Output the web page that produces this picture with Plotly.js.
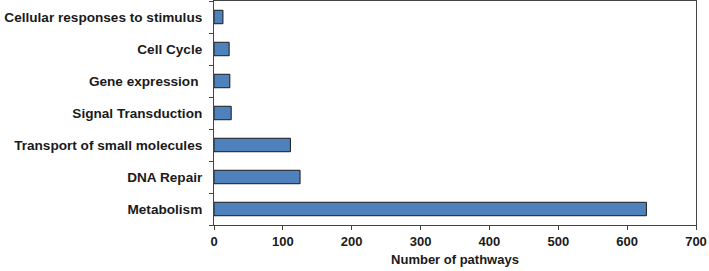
<!DOCTYPE html>
<html>
<head>
<meta charset="utf-8">
<script src="https://cdn.plot.ly/plotly-3.0.1.min.js"></script>
<style>html,body{margin:0;padding:0;background:#fff;}#chart{width:709px;height:271px;}</style>
</head>
<body>
<div id="chart"></div>
<script>
const categories = ["Metabolism", "DNA Repair", "Transport of small molecules", "Signal Transduction", "Gene expression ", "Cell Cycle", "Cellular responses to stimulus"];
const pathwayCounts = [628, 125, 111, 25, 23, 22, 13];
const xTickValues = [0, 100, 200, 300, 400, 500, 600, 700];

const fontFamily = "Liberation Sans, Arial, sans-serif";
const trace = {
  type: "bar",
  orientation: "h",
  y: categories,
  x: pathwayCounts,
  marker: {color: "#4F81BD", line: {color: "#1a1a1a", width: 1}},
  width: 0.42,
  hoverinfo: "x+y"
};
const layout = {
  width: 709, height: 271,
  margin: {l: 214, r: 13, t: 1, b: 46},
  paper_bgcolor: "#fff", plot_bgcolor: "#fff",
  showlegend: false,
  font: {family: fontFamily, color: "#1a1a1a", size: 13},
  xaxis: {
    range: [0, 700], tickvals: xTickValues, ticktext: xTickValues.map(String),
    showgrid: false, zeroline: false,
    showline: true, linecolor: "#444", linewidth: 1, mirror: true,
    ticks: "outside", ticklen: 4, tickcolor: "#444",
    tickfont: {family: fontFamily, size: 13, color: "#1a1a1a", weight: "bold"},
    title: {text: "<b>Number of pathways</b>", font: {family: fontFamily, size: 13, color: "#1a1a1a"}, standoff: 7}
  },
  yaxis: {
    type: "category", range: [-0.5, 6.5],
    showgrid: false, zeroline: false,
    showline: true, linecolor: "#444", linewidth: 1, mirror: true,
    ticks: "outside", ticklen: 4, tickcolor: "#444", tickson: "boundaries",
    ticklabelstandoff: 8,
    tickfont: {family: fontFamily, size: 13.6, color: "#1a1a1a", weight: "bold"}
  }
};
Plotly.newPlot("chart", [trace], layout, {staticPlot: true});
</script>
</body>
</html>
